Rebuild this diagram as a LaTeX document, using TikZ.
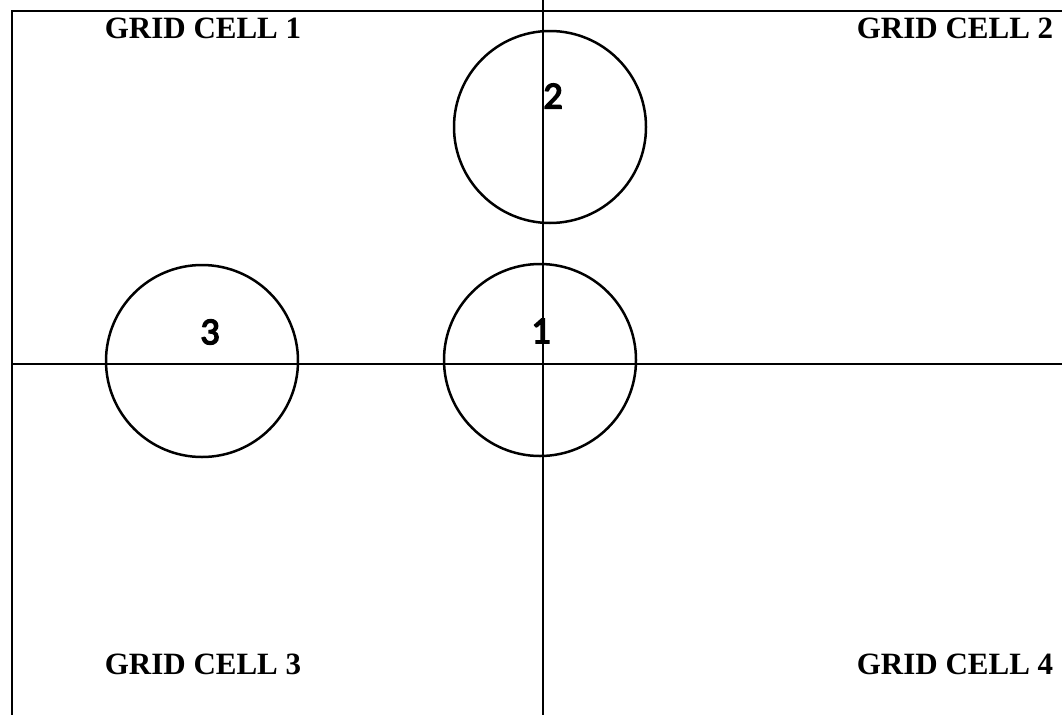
\documentclass[tikz,border=0pt]{standalone}
\usepackage{fontspec}
\setmainfont{Liberation Serif}
\newfontfamily\numfont{Carlito}[FakeBold=4]
\usetikzlibrary{positioning}
\tikzset{
  gridline/.style={black, line width=2.8pt},
  cellname/.style={font=\fontsize{31}{33}\selectfont\bfseries, inner sep=0pt},
  zone/.style={draw=black, line width=2.5pt, circle, minimum size=192pt, inner sep=0pt},
  zonenum/.style={font=\numfont\fontsize{38}{40}\selectfont, inner sep=0pt}
}
\begin{document}
\begin{tikzpicture}[x=1pt, y=-1pt]
  \useasboundingbox (0,0) rectangle (1062,715);

  % Grid frame and dividers
  \coordinate (tl) at (12,11);
  \coordinate (tr) at (1062,11);
  \coordinate (bl) at (12,715);
  \coordinate (ml) at (12,364);
  \coordinate (mr) at (1062,364);
  \coordinate (mt) at (543,0);
  \coordinate (mb) at (543,715);
  \draw[gridline] (tr) -- (tl) -- (bl);
  \draw[gridline] (ml) -- (mr);
  \draw[gridline] (mt) -- (mb);

  % Cell names
  \node[cellname] (cell1) at (203,28) {GRID CELL 1};
  \node[cellname] (cell2) at (955,28) {GRID CELL 2};
  \node[cellname] (cell3) at (203,664) {GRID CELL 3};
  \node[cellname] (cell4) at (955,664) {GRID CELL 4};

  % Circles
  \node[zone] (zone2) at (550,127) {};
  \node[zone] (zone1) at (540,360) {};
  \node[zone] (zone3) at (202,361) {};

  % Circle numbers
  \node[zonenum] (num2) at (553,96) {2};
  \node[zonenum] (num1) at (541,331) {1};
  \node[zonenum] (num3) at (210,332) {3};
\end{tikzpicture}
\end{document}
